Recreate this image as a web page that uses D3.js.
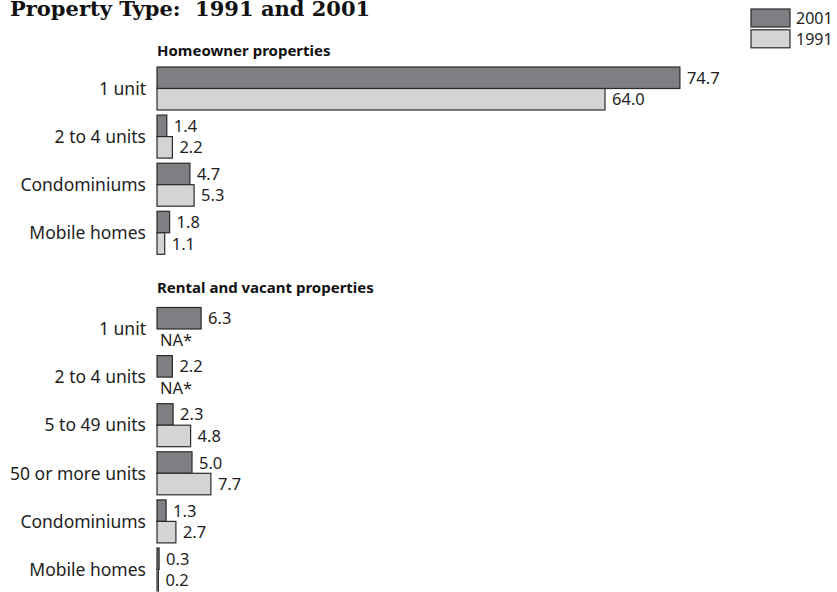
<!DOCTYPE html>
<html>
<head>
<meta charset="utf-8">
<script src="https://cdn.jsdelivr.net/npm/d3@7"></script>
<style>
  html, body { margin: 0; padding: 0; background: #fff; }
  svg { display: block; }
</style>
</head>
<body>
<svg id="chart" width="837" height="592"></svg>
<script>
// Share of properties by type, percent
const chartTitle = "Property Type:  1991 and 2001";
const seriesNames = ["2001", "1991"];
const sectionTitles = ["Homeowner properties", "Rental and vacant properties"];
const naLabel = "NA*";

const homeCategories = ["1 unit", "2 to 4 units", "Condominiums", "Mobile homes"];
const home2001 = [74.7, 1.4, 4.7, 1.8];
const home1991 = [64.0, 2.2, 5.3, 1.1];

const rentalCategories = ["1 unit", "2 to 4 units", "5 to 49 units", "50 or more units", "Condominiums", "Mobile homes"];
const rental2001 = [6.3, 2.2, 2.3, 5.0, 1.3, 0.3];
const rental1991 = [null, null, 4.8, 7.7, 2.7, 0.2];

const colors = { "2001": "#7e7f83", "1991": "#d3d4d6" };
const strokeColor = "#2b2b2b";
const textColor = "#1e1e1e";
const labelFont = "'Noto Sans', 'DejaVu Sans', sans-serif";

// One row list for both sections, with an empty slot between them
const rows = [];
homeCategories.forEach((c, i) => rows.push({ key: "h" + i, label: c, values: { "2001": home2001[i], "1991": home1991[i] } }));
rows.push({ key: "gap", label: null });
rentalCategories.forEach((c, i) => rows.push({ key: "r" + i, label: c, values: { "2001": rental2001[i], "1991": rental1991[i] } }));

const svg = d3.select("#chart");

const x = d3.scaleLinear().domain([0, 80]).range([157, 717]);
const y = d3.scaleBand()
  .domain(rows.map(r => r.key))
  .range([67, 591])
  .paddingInner(0.106)
  .paddingOuter(0);
const ySub = d3.scaleBand().domain(seriesNames).range([0, y.bandwidth()]);

// Title
svg.append("text")
  .attr("x", 10).attr("y", 16)
  .attr("font-family", "'DejaVu Serif', 'Liberation Serif', serif")
  .attr("font-weight", "bold")
  .attr("font-size", 21)
  .attr("fill", "#111")
  .style("white-space", "pre")
  .text(chartTitle);

// Section headings
const sectionFirst = ["h0", "r0"];
const sectionOffset = [11.5, 14];
sectionTitles.forEach((t, i) => {
  svg.append("text")
    .attr("x", x(0))
    .attr("y", y(sectionFirst[i]) - sectionOffset[i])
    .attr("font-family", labelFont)
    .attr("font-weight", "bold")
    .attr("font-size", 15)
    .attr("fill", "#111")
    .text(t);
});

const dataRows = rows.filter(r => r.label !== null);

const groups = svg.append("g").selectAll("g.row")
  .data(dataRows)
  .join("g")
  .attr("class", "row")
  .attr("transform", d => `translate(0,${y(d.key)})`);

// Category labels
groups.append("text")
  .attr("x", 146)
  .attr("y", y.bandwidth() / 2)
  .attr("dy", "0.36em")
  .attr("text-anchor", "end")
  .attr("font-family", labelFont)
  .attr("font-size", 17.5)
  .attr("fill", textColor)
  .text(d => d.label);

const cells = groups.selectAll("g.cell")
  .data(d => seriesNames.map(s => ({ series: s, value: d.values[s] })))
  .join("g")
  .attr("class", "cell")
  .attr("transform", d => `translate(0,${ySub(d.series)})`);

cells.filter(d => d.value != null).append("rect")
  .attr("x", x(0))
  .attr("y", 0)
  .attr("width", d => x(d.value) - x(0))
  .attr("height", ySub.bandwidth())
  .attr("fill", d => colors[d.series])
  .attr("stroke", strokeColor)
  .attr("stroke-width", 1.2);

cells.append("text")
  .attr("x", d => d.value != null ? x(d.value) + 7 : x(0) + 3)
  .attr("y", ySub.bandwidth() / 2)
  .attr("dy", "0.36em")
  .attr("font-family", labelFont)
  .attr("font-size", 16.5)
  .attr("fill", textColor)
  .text(d => d.value != null ? d3.format(".1f")(d.value) : naLabel);

// Legend
const legend = svg.append("g").attr("transform", "translate(751,9)");
const legendItems = legend.selectAll("g")
  .data(seriesNames)
  .join("g")
  .attr("transform", (d, i) => `translate(0,${i * 20.8})`);
legendItems.append("rect")
  .attr("width", 39).attr("height", 18)
  .attr("fill", d => colors[d])
  .attr("stroke", strokeColor)
  .attr("stroke-width", 1.2);
legendItems.append("text")
  .attr("x", 45).attr("y", 9)
  .attr("dy", "0.36em")
  .attr("font-family", labelFont)
  .attr("font-size", 16)
  .attr("fill", textColor)
  .text(d => d);
</script>
</body>
</html>
